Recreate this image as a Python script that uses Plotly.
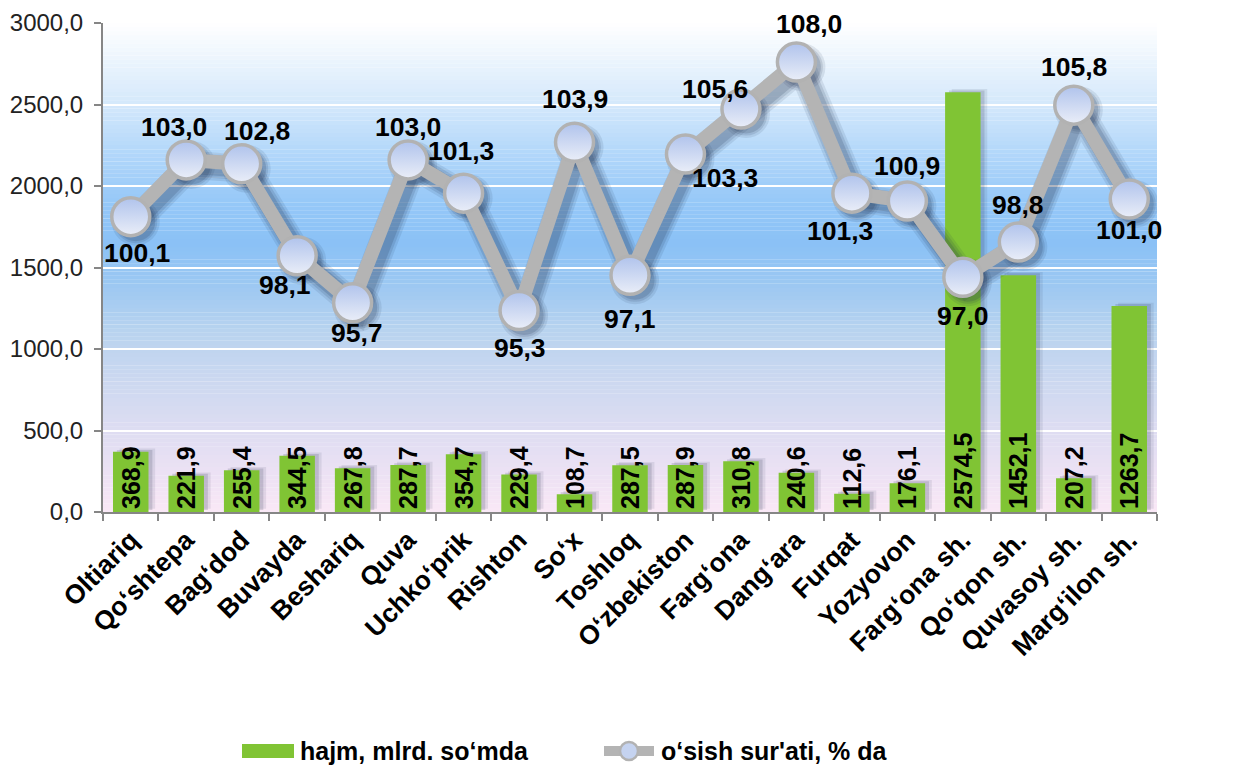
import plotly.graph_objects as go

categories = ["Oltiariq", "Qo‘shtepa", "Bag‘dod", "Buvayda", "Beshariq", "Quva",
              "Uchko‘prik", "Rishton", "So‘x", "Toshloq", "O‘zbekiston", "Farg‘ona",
              "Dang‘ara", "Furqat", "Yozyovon", "Farg‘ona sh.", "Qo‘qon sh.",
              "Quvasoy sh.", "Marg‘ilon sh."]
volume = [368.9, 221.9, 255.4, 344.5, 267.8, 287.7, 354.7, 229.4, 108.7, 287.5,
          287.9, 310.8, 240.6, 112.6, 176.1, 2574.5, 1452.1, 207.2, 1263.7]
growth = [100.1, 103.0, 102.8, 98.1, 95.7, 103.0, 101.3, 95.3, 103.9, 97.1,
          103.3, 105.6, 108.0, 101.3, 100.9, 97.0, 98.8, 105.8, 101.0]
# label placement (pixel shift from each marker: right, down) - style only
label_dx = [6, -12, 15, -12, 4, 0, -3, 1, 0, 0, 40, -26, 13, -12, 0, 0, 0, 0, 0]
label_dy = [36, -33, -33, 29, 30, -33, -42, 37, -43, 44, 24, -20, -38, 38, -35, 39, -37, -38, 31]
name_bar = "hajm, mlrd. so‘mda"
name_line = "o‘sish sur'ati, % da"

def fmt(v):
    return f"{v:.1f}".replace(".", ",")

FONT = "Arial, Liberation Sans, sans-serif"

# figure geometry (page body adds an 8px offset)
W, H = 1229, 757
ML, MT, PW, PH = 95, 15, 1054, 489
MR, MB = W - ML - PW, H - MT - PH
def px(xs):  # screen x -> paper x
    return (xs - 8 - ML) / PW
def py(ys):  # screen y -> paper y
    return (MT + PH - (ys - 8)) / PH

fig = go.Figure()

# gradient background stripes
stops = [(3000, (255, 255, 255)), (2780, (236, 245, 253)), (2500, (212, 232, 251)),
         (2200, (178, 215, 250)), (1900, (150, 200, 248)), (1650, (138, 193, 246)),
         (1400, (156, 200, 242)), (1100, (185, 211, 239)), (800, (204, 216, 240)),
         (500, (222, 221, 242)), (200, (238, 226, 244)), (0, (250, 232, 246))]
stops = sorted(stops)
def col_at(v):
    for (a, ca), (b, cb) in zip(stops[:-1], stops[1:]):
        if a <= v <= b:
            t = (v - a) / (b - a)
            return "rgb(%d,%d,%d)" % tuple(round(ca[i] + (cb[i] - ca[i]) * t) for i in range(3))
    return "rgb(255,255,255)"
N = 120
shapes = []
for i in range(N):
    y0 = 3000 * i / N
    y1 = 3000 * (i + 1) / N
    shapes.append(dict(type="rect", xref="paper", yref="y", x0=0, x1=1, y0=y0, y1=y1 + 1,
                       fillcolor=col_at((y0 + y1) / 2), line=dict(width=0), layer="below"))

BW = 0.64
# bar shadows (same subplot, shifted)
for off, base, op in [(0.12, 20, 0.10), (0.07, 12, 0.17)]:
    fig.add_trace(go.Bar(x=categories, y=volume, width=BW, offset=-BW / 2 + off, base=base,
                         marker=dict(color="rgba(45,55,85,%.2f)" % op, line=dict(width=0)),
                         showlegend=False, hoverinfo="skip"))
# bars
fig.add_trace(go.Bar(x=categories, y=volume, name=name_bar, width=BW,
                     marker=dict(color="#80C434", line=dict(width=0)),
                     text=[fmt(v) for v in volume], textposition="inside",
                     insidetextanchor="start", textangle=-90, constraintext="none",
                     textfont=dict(family=FONT, size=25, color="black", weight="bold"),
                     cliponaxis=False, showlegend=False))

# line shadow (soft, layered) on shifted hidden axes
for w, ms, op in [(28, 48, 0.10), (23, 43, 0.13), (18, 39, 0.17)]:
    fig.add_trace(go.Scatter(x=categories, y=growth, xaxis="x2", yaxis="y3", mode="lines+markers",
                             line=dict(color="rgba(30,45,75,%.2f)" % op, width=w),
                             marker=dict(size=ms, color="rgba(30,45,75,%.2f)" % op),
                             showlegend=False, hoverinfo="skip"))
# line (on hidden axes identical to the visible right axis, drawn last)
fig.add_trace(go.Scatter(x=categories, y=growth, xaxis="x3", yaxis="y4", name=name_line,
                         mode="lines+markers",
                         line=dict(color="#B4B4B4", width=14),
                         marker=dict(size=38, color="#B0C3EC",
                                     gradient=dict(type="vertical", color="#EAEEF8"),
                                     line=dict(color="#B2B2B2", width=3.5)),
                         cliponaxis=False, showlegend=False))

annotations = []
for c, v, dx, dy in zip(categories, growth, label_dx, label_dy):
    annotations.append(dict(xref="x3", yref="y4", x=c, y=v, xshift=dx, yshift=-dy,
                            xanchor="center", yanchor="middle", text=fmt(v), showarrow=False,
                            font=dict(family=FONT, size=26.5, color="black", weight="bold")))

# custom legend (wide swatches like the reference)
shapes += [
    dict(type="rect", xref="paper", yref="paper", x0=px(242), x1=px(294), y0=py(758), y1=py(744),
         fillcolor="#80C434", line=dict(width=0)),
    dict(type="line", xref="paper", yref="paper", x0=px(604), x1=px(654), y0=py(751), y1=py(751),
         line=dict(color="#B4B4B4", width=10)),
    dict(type="circle", xref="paper", yref="paper", x0=px(620), x1=px(638), y0=py(760), y1=py(742),
         fillcolor="#C5D3F0", line=dict(color="#B2B2B2", width=2.5)),
]
annotations += [
    dict(xref="paper", yref="paper", x=px(298), y=py(751), xanchor="left", yanchor="middle",
         text=name_bar, showarrow=False,
         font=dict(family=FONT, size=25, color="black", weight="bold")),
    dict(xref="paper", yref="paper", x=px(659), y=py(751), xanchor="left", yanchor="middle",
         text=name_line, showarrow=False,
         font=dict(family=FONT, size=25, color="black", weight="bold")),
]

dx_sh = 5 / 55.5
dy_sh = 5 / 19.56
axis_line = dict(showline=True, linecolor="#868686", linewidth=2, ticks="outside",
                 ticklen=7, tickcolor="#868686", tickwidth=1.5)
fig.update_layout(
    width=W, height=H,
    margin=dict(l=ML, r=MR, t=MT, b=MB, autoexpand=False),
    paper_bgcolor="white", plot_bgcolor="rgba(0,0,0,0)",
    shapes=shapes, annotations=annotations,
    barmode="overlay", showlegend=False,
    font=dict(family=FONT, color="#222"),
    xaxis=dict(type="category", categoryorder="array", categoryarray=categories,
               range=[-0.5, 18.5], tickangle=-45,
               tickfont=dict(family=FONT, size=26.5, color="black", weight="bold"),
               showgrid=False, tickson="boundaries", **axis_line),
    xaxis2=dict(type="category", categoryorder="array", categoryarray=categories,
                overlaying="x", range=[-0.5 - dx_sh, 18.5 - dx_sh], visible=False),
    xaxis3=dict(type="category", categoryorder="array", categoryarray=categories,
                overlaying="x", range=[-0.5, 18.5], visible=False),
    yaxis=dict(range=[0, 3000], dtick=500, tickformat=".1f", ticklabelstandoff=6,
               tickfont=dict(family=FONT, size=24, color="#222"),
               showgrid=True, gridcolor="white", gridwidth=2, zeroline=False, **axis_line),
    yaxis2=dict(range=[85, 110], dtick=5, tickformat=".1f", overlaying="y", side="right",
                tickfont=dict(family=FONT, size=24, color="#222"),
                showgrid=False, zeroline=False, **axis_line),
    yaxis3=dict(range=[85 + dy_sh, 110 + dy_sh], overlaying="y", visible=False),
    yaxis4=dict(range=[85, 110], overlaying="y", visible=False),
    separators=", ",
)

fig.write_html("out.html")
